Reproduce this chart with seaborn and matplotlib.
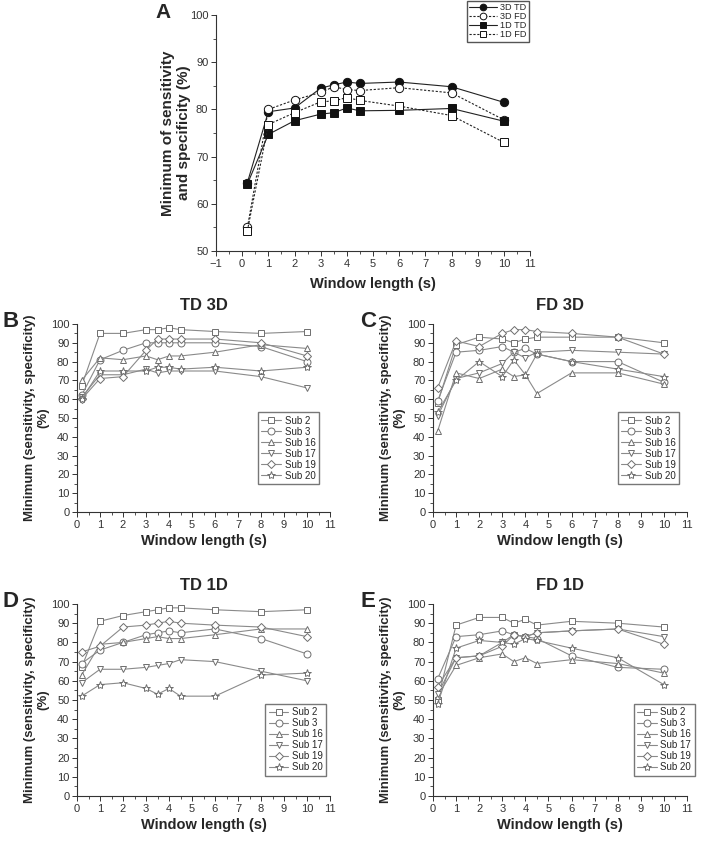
import seaborn as sns
import matplotlib.pyplot as plt
from matplotlib.ticker import MultipleLocator

# window lengths (s)
window = [0.2, 1, 2, 3, 3.5, 4, 4.5, 6, 8, 10]

# panel A
a_labels = ["3D TD", "3D FD", "1D TD", "1D FD"]
a_3d_td = [64.5, 79.5, 80.3, 84.5, 85.2, 85.8, 85.5, 85.8, 84.8, 81.5]
a_3d_fd = [55.0, 80.0, 82.0, 83.6, 84.8, 84.2, 84.0, 84.6, 83.5, 77.8]
a_1d_td = [64.2, 74.7, 77.6, 79.0, 79.3, 80.3, 79.7, 79.8, 80.2, 77.5]
a_1d_fd = [54.3, 76.8, 79.3, 81.6, 81.8, 82.5, 81.9, 80.7, 78.7, 73.0]

subjects = ["Sub 2", "Sub 3", "Sub 16", "Sub 17", "Sub 19", "Sub 20"]

# panel B: TD 3D, one row per subject
td_3d = [
    [67, 95, 95, 97, 97, 98, 97, 96, 95, 96],
    [62, 81, 86, 90, 90, 90, 90, 90, 88, 80],
    [70, 82, 81, 83, 81, 83, 83, 85, 89, 87],
    [61, 73, 73, 76, 74, 75, 75, 75, 72, 66],
    [60, 71, 72, 86, 92, 92, 92, 92, 90, 83],
    [60, 75, 75, 75, 77, 77, 76, 77, 75, 77],
]
# panel C: FD 3D
fd_3d = [
    [58, 89, 93, 92, 90, 92, 93, 93, 93, 90],
    [59, 85, 86, 88, 85, 87, 84, 80, 80, 69],
    [43, 74, 71, 76, 72, 73, 63, 74, 74, 68],
    [51, 71, 74, 79, 85, 82, 85, 86, 85, 84],
    [66, 91, 88, 95, 97, 97, 96, 95, 93, 84],
    [53, 70, 80, 72, 81, 73, 84, 80, 76, 72],
]
# panel D: TD 1D
td_1d = [
    [67, 91, 94, 96, 97, 98, 98, 97, 96, 97],
    [69, 76, 80, 84, 85, 86, 85, 87, 82, 74],
    [63, 79, 80, 82, 83, 82, 82, 84, 87, 87],
    [59, 66, 66, 67, 68, 69, 71, 70, 65, 60],
    [75, 78, 88, 89, 90, 91, 90, 89, 88, 83],
    [52, 58, 59, 56, 53, 56, 52, 52, 63, 64],
]
# panel E: FD 1D
fd_1d = [
    [50, 89, 93, 93, 90, 92, 89, 91, 90, 88],
    [61, 83, 84, 86, 84, 83, 82, 73, 67, 66],
    [52, 68, 72, 74, 70, 72, 69, 71, 69, 64],
    [53, 72, 73, 80, 84, 83, 85, 86, 87, 83],
    [57, 72, 73, 78, 84, 83, 85, 86, 87, 79],
    [48, 77, 81, 80, 79, 82, 81, 77, 72, 58],
]

sns.set_style("ticks")
plt.rcParams["font.family"] = ["Liberation Sans", "DejaVu Sans"]
plt.rcParams["xtick.direction"] = "out"
plt.rcParams["ytick.direction"] = "out"

W, H = 715, 848
fig = plt.figure(figsize=(W / 100, H / 100), dpi=100)


def box(l, t, r, b):
    return [l / W, 1 - b / H, (r - l) / W, (b - t) / H]


def style_axes(ax, fs):
    sns.despine(ax=ax)
    for s in ["left", "bottom"]:
        ax.spines[s].set_linewidth(0.8)
        ax.spines[s].set_color("#333333")
    ax.xaxis.set_major_locator(MultipleLocator(1))
    ax.xaxis.set_minor_locator(MultipleLocator(0.5))
    ax.tick_params(which="major", length=3.5, width=0.7, labelsize=fs, colors="#333333", pad=2)
    ax.tick_params(which="minor", length=2, width=0.6, colors="#333333")


# ---- panel A ----
axA = fig.add_axes(box(216, 15, 530, 251))
a_series = [a_3d_td, a_3d_fd, a_1d_td, a_1d_fd]
a_marks = ["o", "o", "s", "s"]
a_fill = ["#111111", "white", "#111111", "white"]
a_ls = ["-", (0, (2, 1.5)), "-", (0, (2, 1.5))]
for vals, lab, m, fc, ls in zip(a_series, a_labels, a_marks, a_fill, a_ls):
    sns.lineplot(x=window, y=vals, ax=axA, label=lab, marker=m, markersize=6 if m == "o" else 5.5,
                 markerfacecolor=fc, markeredgecolor="#111111", markeredgewidth=0.7,
                 color="#222222", linewidth=0.8, linestyle=ls)
axA.set_xlim(-1, 11)
axA.set_ylim(50, 100)
style_axes(axA, 8)
axA.yaxis.set_major_locator(MultipleLocator(10))
axA.yaxis.set_minor_locator(MultipleLocator(5))
axA.set_xlabel("Window length (s)", fontsize=10.5, fontweight="bold", labelpad=6)
axA.set_ylabel("Minimum of sensitivity\nand specificity (%)", fontsize=11, fontweight="bold", labelpad=-1)
axA.legend(loc="upper left", bbox_to_anchor=(467 / W, 1 - 1 / H), bbox_transform=fig.transFigure,
           fontsize=6.6, frameon=True, fancybox=False, edgecolor="#555555", framealpha=1,
           handlelength=3.0, handletextpad=0.4, labelspacing=0.0, borderpad=0.25,
           borderaxespad=0, markerscale=0.8)
fig.text(155 / W, 1 - 3 / H, "A", fontsize=15, fontweight="bold", ha="left", va="top")

# ---- panels B-E ----
sub_marks = ["s", "o", "^", "v", "D", "*"]
sub_sizes = [4.5, 5, 5, 5, 4.5, 6]
gray = "#8a8a8a"
panels = [
    ("B", "TD 3D", td_3d, box(77, 324, 330, 512), (2, 311), (0.715, 0.53)),
    ("C", "FD 3D", fd_3d, box(433, 324, 687, 512), (360, 311), (0.728, 0.53)),
    ("D", "TD 1D", td_1d, box(77, 604, 330, 796), (2, 591), (0.745, 0.48)),
    ("E", "FD 1D", fd_1d, box(433, 604, 687, 796), (360, 591), (0.79, 0.48)),
]
for letter, title, rows, rect, lpos, legpos in panels:
    ax = fig.add_axes(rect)
    for vals, lab, m, ms in zip(rows, subjects, sub_marks, sub_sizes):
        sns.lineplot(x=window, y=vals, ax=ax, label=lab, marker=m, markersize=ms,
                     markerfacecolor="white", markeredgecolor="#6e6e6e", markeredgewidth=0.7,
                     color=gray, linewidth=0.8)
    ax.set_xlim(0, 11)
    ax.set_ylim(0, 100)
    style_axes(ax, 8)
    ax.yaxis.set_major_locator(MultipleLocator(10))
    ax.yaxis.set_minor_locator(MultipleLocator(5))
    ax.set_title(title, fontsize=12, fontweight="bold", pad=10)
    ax.set_xlabel("Window length (s)", fontsize=10.5, fontweight="bold", labelpad=3)
    ax.set_ylabel("Minimum (sensitivity, specificity)\n(%)", fontsize=9.5, fontweight="bold", labelpad=1)
    ax.legend(loc="upper left", bbox_to_anchor=legpos, fontsize=7, frameon=True, fancybox=False,
              edgecolor="#777777", framealpha=1, handlelength=2.0, handletextpad=0.4,
              labelspacing=0.1, borderpad=0.35, borderaxespad=0)
    fig.text(lpos[0] / W, 1 - lpos[1] / H, letter, fontsize=16, fontweight="bold", ha="left", va="top")

fig.savefig("out.png", dpi=100)
